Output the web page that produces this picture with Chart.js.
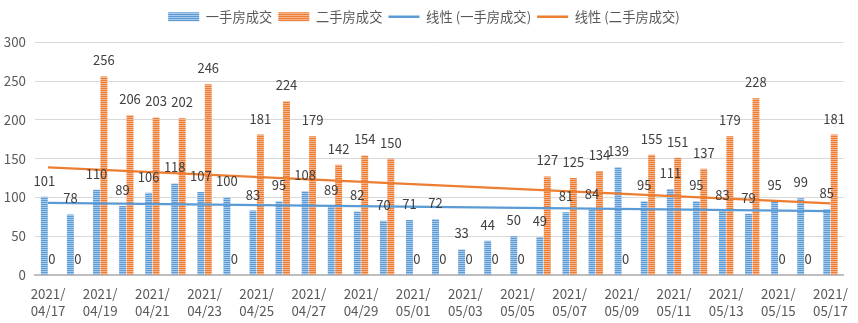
<!DOCTYPE html>
<html>
<head>
<meta charset="utf-8">
<script src="https://cdn.jsdelivr.net/npm/chart.js@4.4.1/dist/chart.umd.min.js"></script>
<style>
  html, body { margin: 0; padding: 0; background: #fff; }
  #wrap { width: 858px; height: 323px; position: relative; }
</style>
</head>
<body>
<div id="wrap"><canvas id="chart"></canvas></div>
<script>
// Chart data
var dates = [
    '04/17', '04/18', '04/19', '04/20', '04/21', '04/22', '04/23', '04/24',
    '04/25', '04/26', '04/27', '04/28', '04/29', '04/30', '05/01', '05/02',
    '05/03', '05/04', '05/05', '05/06', '05/07', '05/08', '05/09', '05/10',
    '05/11', '05/12', '05/13', '05/14', '05/15', '05/16', '05/17'
];
var firstHand = [101, 78, 110, 89, 106, 118, 107, 100, 83, 95, 108, 89, 82, 70, 71, 72,
    33, 44, 50, 49, 81, 84, 139, 95, 111, 95, 83, 79, 95, 99, 85];
var secondHand = [0, 0, 256, 206, 203, 202, 246, 0, 181, 224, 179, 142, 154, 150, 0, 0,
    0, 0, 0, 127, 125, 134, 0, 155, 151, 137, 179, 228, 0, 0, 181];
// trend lines, read at first and last day
var firstTrend = [93, 82.4];
var secondTrend = [138.6, 92.3];
var yTicks = [0, 50, 100, 150, 200, 250, 300];

var BLUE = '#5B9BD5';
var ORANGE = '#ED7D31';
var FONT = "'Noto Sans CJK SC', 'Noto Sans', sans-serif";

function stripes(color, light) {
    var c = document.createElement('canvas');
    c.width = 4; c.height = 2;
    var g = c.getContext('2d');
    g.fillStyle = color; g.fillRect(0, 0, 4, 1);
    g.fillStyle = light; g.fillRect(0, 1, 4, 1);
    return g.createPattern(c, 'repeat');
}

function trendSeries(pair) {
    var arr = dates.map(function () { return null; });
    arr[0] = pair[0];
    arr[arr.length - 1] = pair[1];
    return arr;
}

var ctx = document.getElementById('chart').getContext('2d');
var bluePattern = stripes(BLUE, '#A9CAEA');
var orangePattern = stripes(ORANGE, '#F6B48E');

// value labels above each bar
var barLabels = {
    id: 'barLabels',
    afterDatasetsDraw: function (chart) {
        var c = chart.ctx;
        c.save();
        c.font = '13px ' + FONT;
        c.fillStyle = '#404040';
        c.textAlign = 'center';
        c.textBaseline = 'middle';
        [0, 1].forEach(function (di) {
            var meta = chart.getDatasetMeta(di);
            var data = chart.data.datasets[di].data;
            meta.data.forEach(function (bar, i) {
                c.fillText(String(data[i]), bar.x, bar.y - 16);
            });
        });
        c.restore();
    }
};

// extra room under the legend
var legendGap = {
    id: 'legendGap',
    beforeInit: function (chart) {
        var fit = chart.legend.fit;
        chart.legend.fit = function () {
            fit.call(this);
            this.height += 9;
        };
    }
};

var chartData = {
    labels: dates.map(function (d) { return ['2021/', d]; }),
    datasets: [{
        type: 'bar',
        label: '一手房成交',
        data: firstHand,
        backgroundColor: bluePattern,
        barPercentage: 0.93,
        categoryPercentage: 0.57,
        order: 2
    }, {
        type: 'bar',
        label: '二手房成交',
        data: secondHand,
        backgroundColor: orangePattern,
        barPercentage: 0.93,
        categoryPercentage: 0.57,
        order: 2
    }, {
        type: 'line',
        label: '线性 (一手房成交)',
        data: trendSeries(firstTrend),
        borderColor: BLUE,
        borderWidth: 2.25,
        pointRadius: 0,
        spanGaps: true,
        order: 1
    }, {
        type: 'line',
        label: '线性 (二手房成交)',
        data: trendSeries(secondTrend),
        borderColor: ORANGE,
        borderWidth: 2.25,
        pointRadius: 0,
        spanGaps: true,
        order: 1
    }]
};

var chartOptions = {
    responsive: true,
    maintainAspectRatio: false,
    animation: false,
    layout: { padding: { left: 0, right: 10, top: 4, bottom: 0 } },
    plugins: {
        tooltip: { enabled: false },
        legend: {
            position: 'top',
            labels: {
                usePointStyle: true,
                pointStyleWidth: 31,
                boxHeight: 9,
                padding: 6,
                color: '#595959',
                font: { family: FONT, size: 13.3 },
                generateLabels: function (chart) {
                    return [
                        { text: '一手房成交', fillStyle: bluePattern, strokeStyle: BLUE, lineWidth: 0, pointStyle: 'rect', datasetIndex: 0, fontColor: '#595959' },
                        { text: '二手房成交', fillStyle: orangePattern, strokeStyle: ORANGE, lineWidth: 0, pointStyle: 'rect', datasetIndex: 1, fontColor: '#595959' },
                        { text: '线性 (一手房成交)', fillStyle: BLUE, strokeStyle: BLUE, lineWidth: 2.5, pointStyle: 'line', datasetIndex: 2, fontColor: '#595959' },
                        { text: '线性 (二手房成交)', fillStyle: ORANGE, strokeStyle: ORANGE, lineWidth: 2.5, pointStyle: 'line', datasetIndex: 3, fontColor: '#595959' }
                    ];
                }
            }
        }
    },
    scales: {
        x: {
            grid: { display: false, drawTicks: false },
            border: { display: true, color: '#BFBFBF', width: 2 },
            ticks: {
                autoSkip: false,
                maxRotation: 0,
                padding: 10,
                color: '#595959',
                font: { family: FONT, size: 13.3, lineHeight: 1.3 },
                callback: function (v, i) {
                    return i % 2 === 0 ? this.getLabelForValue(v) : '';
                }
            },
            afterFit: function (s) { s.height = 48; }
        },
        y: {
            min: 0,
            max: 300,
            afterBuildTicks: function (s) {
                s.ticks = yTicks.map(function (v) { return { value: v }; });
            },
            grid: { color: '#D9D9D9', drawTicks: false },
            border: { display: false },
            ticks: {
                padding: 9,
                color: '#595959',
                font: { family: FONT, size: 13.3 }
            },
            afterFit: function (s) { s.width = 35; }
        }
    }
};

var config = {
    type: 'bar',
    data: chartData,
    options: chartOptions,
    plugins: [legendGap, barLabels]
};

var comboChart = new Chart(ctx, config);
</script>
</body>
</html>
